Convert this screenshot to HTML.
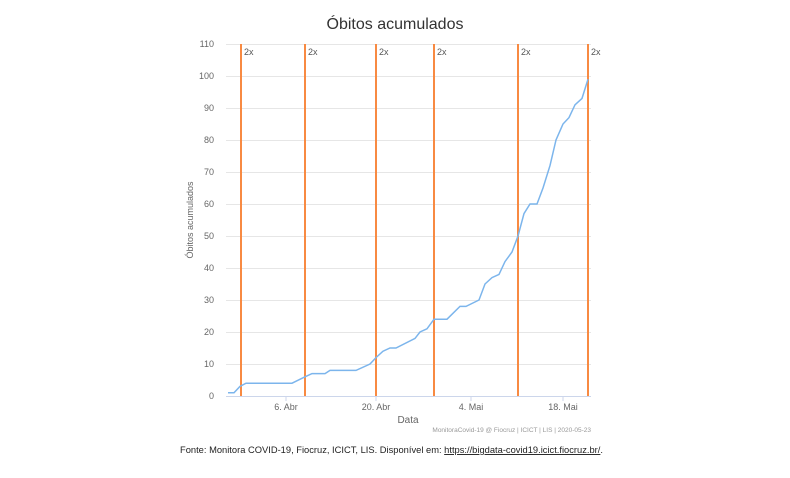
<!DOCTYPE html>
<html><head><meta charset="utf-8"><style>
body{margin:0;background:#fff;width:790px;height:473px;overflow:hidden;font-family:"Liberation Sans",sans-serif}
</style></head><body>
<svg width="790" height="473" xmlns="http://www.w3.org/2000/svg" font-family="Liberation Sans, sans-serif">
<text x="395" y="29" text-anchor="middle" font-size="16" fill="#333">Óbitos acumulados</text>
<g stroke="#e6e6e6" stroke-width="1">
<line x1="226" x2="591" y1="44.5" y2="44.5"/><line x1="226" x2="591" y1="76.5" y2="76.5"/>
<line x1="226" x2="591" y1="108.5" y2="108.5"/><line x1="226" x2="591" y1="140.5" y2="140.5"/>
<line x1="226" x2="591" y1="172.5" y2="172.5"/><line x1="226" x2="591" y1="204.5" y2="204.5"/>
<line x1="226" x2="591" y1="236.5" y2="236.5"/><line x1="226" x2="591" y1="268.5" y2="268.5"/>
<line x1="226" x2="591" y1="300.5" y2="300.5"/><line x1="226" x2="591" y1="332.5" y2="332.5"/>
<line x1="226" x2="591" y1="364.5" y2="364.5"/>
</g>
<line x1="226" x2="591" y1="396.5" y2="396.5" stroke="#ccd6eb"/>
<g stroke="#ccd6eb"><line x1="286" x2="286" y1="396" y2="401"/><line x1="376" x2="376" y1="396" y2="401"/><line x1="471" x2="471" y1="396" y2="401"/><line x1="563" x2="563" y1="396" y2="401"/></g>
<g font-size="9" fill="#666" text-anchor="end">
<text x="214" y="47">110</text><text x="214" y="79">100</text><text x="214" y="111">90</text><text x="214" y="143">80</text>
<text x="214" y="175">70</text><text x="214" y="207">60</text><text x="214" y="239">50</text><text x="214" y="271">40</text>
<text x="214" y="303">30</text><text x="214" y="335">20</text><text x="214" y="367">10</text><text x="214" y="399">0</text>
</g>
<text transform="translate(193,220) rotate(-90)" text-anchor="middle" font-size="9" fill="#666">Óbitos acumulados</text>
<g font-size="9" fill="#666" text-anchor="middle">
<text x="286" y="410">6. Abr</text><text x="376" y="410">20. Abr</text><text x="471" y="410">4. Mai</text><text x="563" y="410">18. Mai</text>
<text x="408" y="423" font-size="10">Data</text>
</g>
<text x="591" y="432" text-anchor="end" font-size="6.5" fill="#999">MonitoraCovid-19 @ Fiocruz | ICICT | LIS | 2020-05-23</text>
<g stroke="#f88a42" stroke-width="2">
<line x1="241" x2="241" y1="44" y2="396"/><line x1="305" x2="305" y1="44" y2="396"/><line x1="376" x2="376" y1="44" y2="396"/>
<line x1="434" x2="434" y1="44" y2="396"/><line x1="518" x2="518" y1="44" y2="396"/><line x1="588" x2="588" y1="44" y2="396"/>
</g>
<g font-size="9" fill="#555">
<text x="244" y="55">2x</text><text x="308" y="55">2x</text><text x="379" y="55">2x</text><text x="437" y="55">2x</text><text x="521" y="55">2x</text><text x="591" y="55">2x</text>
</g>
<polyline fill="none" stroke="#7cb5ec" stroke-width="1.5" points="228,392.8 234,392.8 240,386.4 246,383.2 292,383.2 305,376.8 312,373.6 325,373.6 330,370.4 356,370.4 370,364 376,357.6 383,351.2 390,348 396,348 415,338.4 420,332 427,328.8 434,319.2 447,319.2 460,306.4 466,306.4 479,300 485,284 492,277.6 499,274.4 505,261.6 512,252 518,236 524,213.6 530,204 537,204 543,188 550,165.6 556,140 563,124 569,117.6 575,104.8 582,98.4 588,79.2"/>
<text x="180" y="453" font-size="9.5" fill="#222" textLength="423" lengthAdjust="spacingAndGlyphs">Fonte: Monitora COVID-19, Fiocruz, ICICT, LIS. Disponível em: <tspan text-decoration="underline">https://bigdata-covid19.icict.fiocruz.br/</tspan>.</text>
</svg>
</body></html>
